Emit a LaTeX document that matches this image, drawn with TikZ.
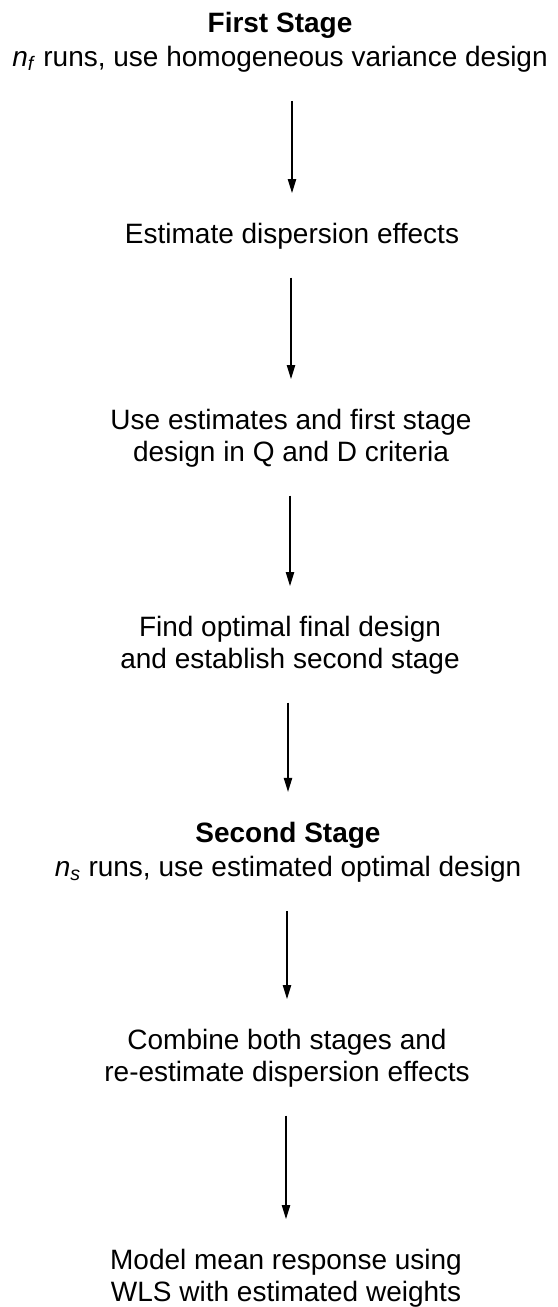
\documentclass[tikz,border=0pt]{standalone}
\usepackage{fontspec}
\setmainfont{Liberation Sans}
\usetikzlibrary{arrows.meta}

\begin{document}
\begin{tikzpicture}[x=0.03cm, y=-0.03cm, font=\fontsize{23.9}{27.3}\selectfont,
    stepbox/.style={align=center, inner sep=0pt},
    flow/.style={line width=1.1pt, -{Triangle[length=0.42cm, width=0.25cm]},
                 shorten <=0.85cm, shorten >=0.89cm}]
    \useasboundingbox (0,0) rectangle (558,1307);
    % primeira etapa
    \node[stepbox] (stage1) at (280,42) {\textbf{First Stage}\\[2pt]
        \textit{n}\textsubscript{\textit{f}} runs, use homogeneous variance design};
    \node[stepbox] (disp)   at (292,236) {Estimate dispersion effects};
    \node[stepbox] (crit)   at (291,438) {Use estimates and first stage\\design in Q and D criteria};
    \node[stepbox] (optim)  at (290,645) {Find optimal final design\\and establish second stage};
    % segunda etapa
    \node[stepbox] (stage2) at (288,852) {\textbf{Second Stage}\\[2pt]
        \textit{n}\textsubscript{\textit{s}} runs, use estimated optimal design};
    \node[stepbox] (comb)   at (287,1058) {Combine both stages and\\re-estimate dispersion effects};
    \node[stepbox] (model)  at (286,1278) {Model mean response using\\WLS with estimated weights};
    % setas
    \draw[flow] (disp |- stage1.south) -- (disp.north);
    \draw[flow] (crit |- disp.south) -- (crit.north);
    \draw[flow] (optim |- crit.south) -- (optim.north);
    \draw[flow] (stage2 |- optim.south) -- (stage2.north);
    \draw[flow] (comb |- stage2.south) -- (comb.north);
    \draw[flow] (model |- comb.south) -- (model.north);
\end{tikzpicture}
\end{document}
